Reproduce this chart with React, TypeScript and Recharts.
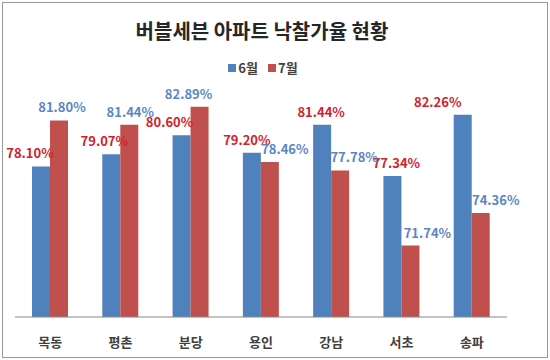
import React from 'react';
import { BarChart, Bar, XAxis, YAxis, LabelList } from 'recharts';

const regions = ['목동', '평촌', '분당', '용인', '강남', '서초', '송파'];
const june = [78.1, 79.07, 80.6, 79.2, 81.44, 77.34, 82.26];
const july = [81.8, 81.44, 82.89, 78.46, 77.78, 71.74, 74.36];

// label nudges (Excel moved some labels sideways to avoid overlap)
const juneShift = [-11, -7, -12, -5, -1, 4, -25];
const julyShift = [3, 1, -11, 15, 14, 17, 15];

const BLUE = '#4F81BD';
const RED = '#C0504D';
const BLUE_TEXT = '#5B86C2';
const RED_TEXT = '#D2222A';
const FONT = '"Noto Sans CJK KR", "Noto Sans", sans-serif';

const data = regions.map((name, i) => ({ name, june: june[i], july: july[i] }));

const makeLabel = (shift: number[], color: string) => (props: any) => {
	const { x, y, width, index, value } = props;
	return (
		<text
			x={x + width / 2 + shift[index]}
			y={y - 8}
			textAnchor="middle"
			fill={color}
			fontSize={13}
			fontWeight="bold"
			fontFamily={FONT}
		>
			{value.toFixed(2)}%
		</text>
	);
};

const CategoryTick = (props: any) => {
	const { x, y, payload } = props;
	return (
		<text x={x} y={y + 22} textAnchor="middle" fill="#404040" fontSize={13} fontWeight="bold" fontFamily={FONT}>
			{payload.value}
		</text>
	);
};

const App = () => {
	return (
		<div style={{ position: 'absolute', left: 0, top: 0, width: 550, height: 360, background: '#fff' }}>
			<div
				style={{
					position: 'absolute',
					left: 2,
					top: 2,
					width: 544,
					height: 354,
					border: '1px solid #999',
				}}
			/>
			<div
				style={{
					position: 'absolute',
					left: 0,
					top: 16,
					width: 524,
					textAlign: 'center',
					fontFamily: FONT,
					fontWeight: 'bold',
					fontSize: 20,
					color: '#262626',
				}}
			>
				버블세븐 아파트 낙찰가율 현황
			</div>
			<div
				style={{
					position: 'absolute',
					left: 0,
					top: 58,
					width: 526,
					display: 'flex',
					justifyContent: 'center',
					fontFamily: FONT,
					fontWeight: 'bold',
					fontSize: 13,
					color: '#404040',
				}}
			>
				<span style={{ display: 'flex', alignItems: 'center', marginRight: 10 }}>
					<span style={{ width: 8, height: 8, background: BLUE, marginRight: 2 }} />6월
				</span>
				<span style={{ display: 'flex', alignItems: 'center' }}>
					<span style={{ width: 8, height: 8, background: RED, marginRight: 2 }} />7월
				</span>
			</div>
			<BarChart
				width={550}
				height={360}
				data={data}
				margin={{ top: 93, right: 43, bottom: 13, left: 15 }}
				barSize={18}
				barGap={0}
				style={{ position: 'absolute', left: 0, top: 0 }}
			>
				<XAxis
					dataKey="name"
					height={30}
					axisLine={{ stroke: '#868686' }}
					tickLine={false}
					tick={<CategoryTick />}
					interval={0}
				/>
				<YAxis hide domain={[66, 84]} allowDataOverflow />
				<Bar dataKey="june" name="6월" fill={BLUE} isAnimationActive={false}>
					<LabelList dataKey="june" content={makeLabel(juneShift, RED_TEXT)} />
				</Bar>
				<Bar dataKey="july" name="7월" fill={RED} isAnimationActive={false}>
					<LabelList dataKey="july" content={makeLabel(julyShift, BLUE_TEXT)} />
				</Bar>
			</BarChart>
		</div>
	);
};

export default App;
